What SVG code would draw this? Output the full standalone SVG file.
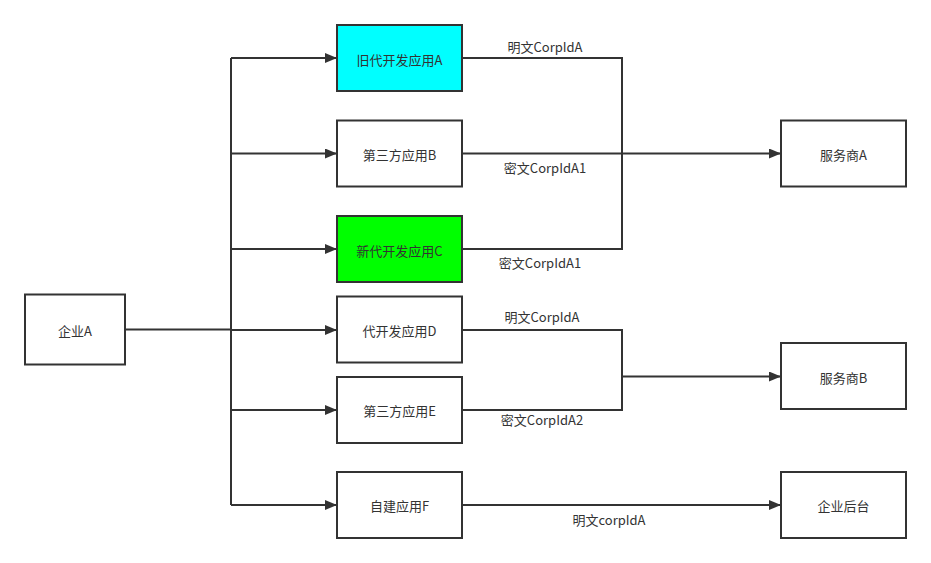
<svg xmlns="http://www.w3.org/2000/svg" width="931" height="563" viewBox="0 0 931 563">
<defs>
<marker id="arr" markerWidth="12" markerHeight="10" refX="12" refY="5" orient="auto" markerUnits="userSpaceOnUse">
<path d="M0,0 L12,5 L0,10 Z" fill="#333"/>
</marker>
<style>
.n{stroke:#333;stroke-width:2;fill:#fff}
.t{font-family:"Noto Sans CJK SC","Microsoft YaHei",sans-serif;font-size:13px;fill:#333;text-anchor:middle;dominant-baseline:central}
.c{stroke:#333;stroke-width:2;fill:none}
</style>
</defs>
<rect width="931" height="563" fill="#fff"/>
<g id="connectors">
<path class="c" d="M125,329.5 H231"/>
<path class="c" d="M231,58 V505"/>
<path class="c" d="M231,58 H337" marker-end="url(#arr)"/>
<path class="c" d="M231,153.5 H337" marker-end="url(#arr)"/>
<path class="c" d="M231,249 H337" marker-end="url(#arr)"/>
<path class="c" d="M231,330 H337" marker-end="url(#arr)"/>
<path class="c" d="M231,410 H337" marker-end="url(#arr)"/>
<path class="c" d="M231,505 H337" marker-end="url(#arr)"/>
<path class="c" d="M462,58 H622 V249 H462"/>
<path class="c" d="M462,153.5 H781" marker-end="url(#arr)"/>
<path class="c" d="M462,330 H622 V410 H462"/>
<path class="c" d="M622,376.5 H781" marker-end="url(#arr)"/>
<path class="c" d="M462,505 H781" marker-end="url(#arr)"/>
<text class="t" x="545" y="46">明文CorpIdA</text>
<text class="t" x="545" y="167">密文CorpIdA1</text>
<text class="t" x="540" y="262">密文CorpIdA1</text>
<text class="t" x="542" y="316">明文CorpIdA</text>
<text class="t" x="542" y="419">密文CorpIdA2</text>
<text class="t" x="609" y="519">明文corpIdA</text>
</g>
<g id="qiyeA"><rect class="n" x="25" y="294.5" width="100" height="70"/><text class="t" x="75" y="330">企业A</text></g>
<g id="appA"><rect class="n" x="337" y="25" width="125" height="66" style="fill:#00ffff"/><text class="t" x="399.5" y="59">旧代开发应用A</text></g>
<g id="appB"><rect class="n" x="337" y="120.5" width="125" height="66"/><text class="t" x="399.5" y="154">第三方应用B</text></g>
<g id="appC"><rect class="n" x="337" y="216" width="125" height="66" style="fill:#00ff00"/><text class="t" x="399.5" y="250">新代开发应用C</text></g>
<g id="appD"><rect class="n" x="337" y="296.5" width="125" height="66"/><text class="t" x="399.5" y="330">代开发应用D</text></g>
<g id="appE"><rect class="n" x="337" y="377" width="125" height="66"/><text class="t" x="399.5" y="410">第三方应用E</text></g>
<g id="appF"><rect class="n" x="337" y="472" width="125" height="66"/><text class="t" x="399.5" y="505">自建应用F</text></g>
<g id="fwsA"><rect class="n" x="781" y="120.5" width="125" height="66"/><text class="t" x="843.5" y="154">服务商A</text></g>
<g id="fwsB"><rect class="n" x="781" y="343" width="125" height="66"/><text class="t" x="843.5" y="377">服务商B</text></g>
<g id="houtai"><rect class="n" x="781" y="472" width="125" height="66"/><text class="t" x="843.5" y="505">企业后台</text></g>
</svg>
